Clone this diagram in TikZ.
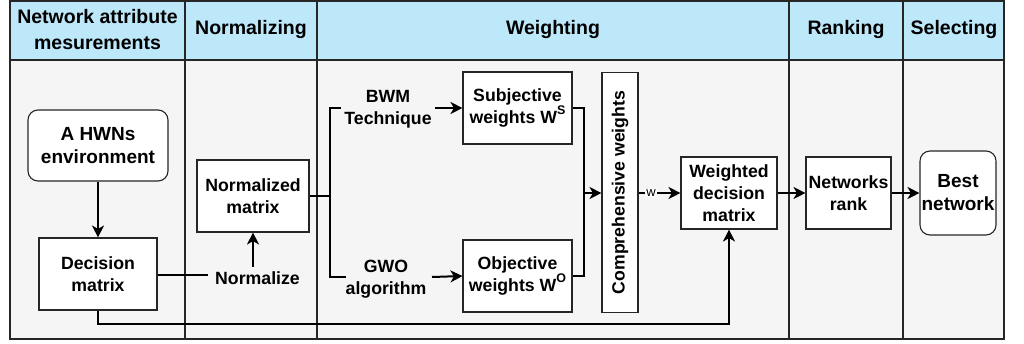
\documentclass[tikz,border=0pt]{standalone}
\usepackage{fontspec}
\setmainfont{Liberation Sans}
\usetikzlibrary{arrows.meta}
\definecolor{headblue}{HTML}{BDE8FA}
\definecolor{lanegray}{HTML}{F5F5F5}
\newcommand{\supS}[1]{\raisebox{0.5em}{\fontsize{12.5}{12.5}\selectfont #1}}
\begin{document}
\begin{tikzpicture}[x=1pt,y=-1pt,
  lane/.style={draw=black!85,line width=1.1pt},
  headtxt/.style={font=\fontsize{19.5}{26}\selectfont\bfseries,align=center,inner sep=0pt},
  box/.style={draw=black!85,fill=white,line width=1.1pt,inner sep=0pt,align=center,
    font=\fontsize{17.7}{22}\selectfont\bfseries},
  roundbox/.style={box,rounded corners=10pt,font=\fontsize{19}{23}\selectfont\bfseries},
  plain/.style={inner sep=0pt,align=center,font=\fontsize{17.7}{22}\selectfont\bfseries},
  link/.style={line width=2pt,draw=black},
  arr/.style={link,-{Stealth[length=12pt,width=12pt,inset=3.5pt]}},
  wlabel/.style={fill=white,inner sep=1pt,font=\fontsize{13}{13}\selectfont}
]
\useasboundingbox (0,0) rectangle (1024,343);

% swimlane frame: header band and body
\fill[headblue] (10,1) rectangle (1004,60);
\fill[lanegray] (10,60) rectangle (1004,339);
\draw[lane] (10,1) rectangle (1004,339);
\draw[lane] (10,60) -- (1004,60);
\foreach \xx in {185,317,789,903} \draw[lane] (\xx,1) -- (\xx,339);

% lane titles
\node[headtxt] (h1) at (97.5,30) {Network attribute\\mesurements};
\node[headtxt] (h2) at (251,30) {Normalizing};
\node[headtxt] (h3) at (553,30) {Weighting};
\node[headtxt] (h4) at (846,30) {Ranking};
\node[headtxt] (h5) at (954,30) {Selecting};

% process nodes
\node[roundbox,minimum width=140pt,minimum height=71pt] (env) at (98,145.5) {A HWNs\\environment};
\node[box,minimum width=118pt,minimum height=72pt] (dec) at (98,274) {Decision\\matrix};
\node[box,minimum width=112pt,minimum height=72pt] (nm) at (253,196) {Normalized\\matrix};
\node[plain] (nz) at (257.5,278) {Normalize};
\node[plain] (bwm) at (388,109) {BWM\\Technique};
\node[plain] (gwo) at (386,279) {GWO\\algorithm};
\node[box,minimum width=109pt,minimum height=72pt] (sub) at (517.5,108) {Subjective\\weights W\supS{S}};
\node[box,minimum width=109pt,minimum height=72pt] (obj) at (517.5,276) {Objective\\weights W\supS{O}};
\node[box,minimum width=36pt,minimum height=240pt] (cw) at (620,192.5) {\rotatebox{90}{Comprehensive weights}};
\node[box,minimum width=96pt,minimum height=72pt] (wdm) at (729,193) {Weighted\\decision\\matrix};
\node[box,minimum width=85pt,minimum height=72pt] (nr) at (848.5,193) {Networks\\rank};
\node[roundbox,minimum width=76pt,minimum height=84pt] (best) at (958,193) {Best\\network};

% helper points for the branching lines
\coordinate (brA) at (330,196);
\coordinate (brT) at (330,108);
\coordinate (brB) at (330,277);
\coordinate (mgT) at (583.5,108);
\coordinate (mgB) at (583.5,276);
\coordinate (mgM) at (583.5,193);
\coordinate (low) at (98,324);

% connectors
\draw[arr] (env) -- (dec);
\draw[link] (dec.east |- 0,275) -- (208,275);
\draw[arr] (nm.south |- 0,267) -- (nm.south);
\draw[link] (nm.east) -- (brA);
\draw[link,line cap=rect] (340,108) -- (brT) -- (brB) -- (345,277);
\draw[arr] (435,108) -- (sub.west);
\draw[arr] (432,277) -- (obj.west);
\draw[link] (sub.east) -- (mgT) -- (mgB) -- (obj.east);
\draw[arr] (mgM) -- (cw.west |- mgM);
\draw[arr] (cw.east |- wdm.west) -- node[wlabel,pos=0.3] {w} (wdm.west);
\draw[arr] (wdm) -- (nr);
\draw[arr] (nr) -- (best);
\draw[arr] (dec.south) -- (low) -| (wdm.south);
\end{tikzpicture}
\end{document}
